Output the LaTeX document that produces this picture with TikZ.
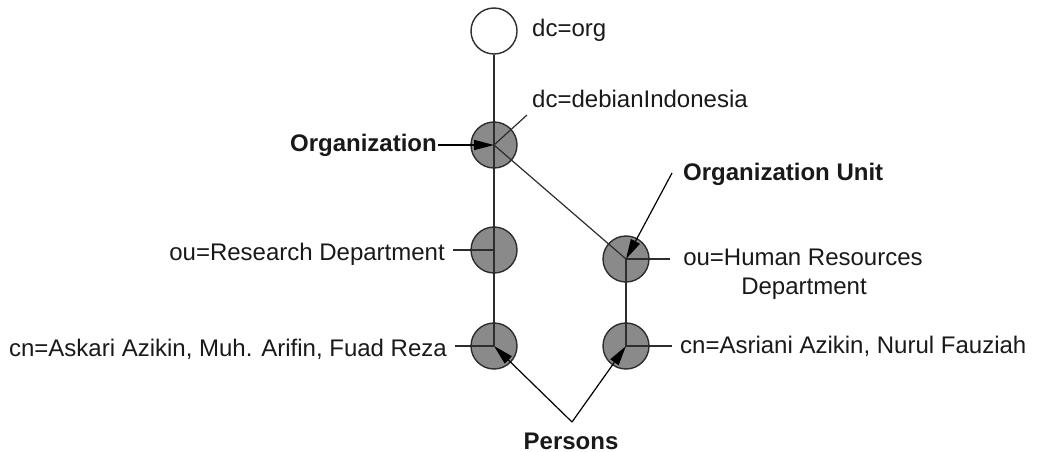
\documentclass[tikz,border=0pt]{standalone}
\usepackage{fontspec}
\setmainfont{Liberation Sans}
\usetikzlibrary{arrows.meta}
\definecolor{fillgray}{RGB}{138,138,138}
\definecolor{ink}{RGB}{45,45,45}
\definecolor{txt}{RGB}{25,25,25}
\begin{document}
\begin{tikzpicture}[x=1pt,y=-1pt,
  ent/.style={circle,draw=ink,line width=1.4pt,fill=fillgray,minimum size=46pt,inner sep=0pt},
  conn/.style={draw=ink,line width=1.5pt},
  thin conn/.style={draw=ink,line width=1.2pt},
  lbl/.style={font=\fontsize{24}{29}\selectfont,text=txt,inner sep=0pt},
  blbl/.style={font=\fontsize{24}{29}\selectfont\bfseries,text=txt,inner sep=0pt},
  tip/.style={-{Triangle[length=20pt,width=10pt]}}
]
\useasboundingbox (0,0) rectangle (1039,452);

% entries
\node[ent,fill=white] (root) at (494,31) {};
\node[ent] (org) at (494,145) {};
\node[ent] (research) at (494,250) {};
\node[ent] (hr) at (626,259) {};
\node[ent] (askari) at (494,346) {};
\node[ent] (asriani) at (626,346) {};

% labels
\node[lbl,anchor=base west] (lroot) at (532,36.7) {dc=org};
\node[lbl,anchor=base west] (lorg) at (532,107) {dc=debianIndonesia};
\node[blbl,anchor=base east] (lorganization) at (437,151.5) {Organization};
\node[blbl,anchor=base west] (lunit) at (683,180.5) {Organization Unit};
\node[lbl,anchor=base] (lhra) at (803,265) {ou=Human Resources};
\node[lbl,anchor=base] (lhrb) at (804,294) {Department};
\node[lbl,anchor=base east] (lresearch) at (445,260.5) {ou=Research Department};
\node[lbl,anchor=base east] (laskari) at (447,356) {cn=Askari Azikin, Muh. Arifin, Fuad Reza};
\node[lbl,anchor=base west] (lasriani) at (680,353) {cn=Asriani Azikin, Nurul Fauziah};
\node[blbl,anchor=base] (lpersons) at (571,449) {Persons};

% connector end points
\coordinate (dcl) at (527,115);
\coordinate (orgstart) at (438,145);
\coordinate (unitstart) at (672,173);
\coordinate (resl) at (453,250);
\coordinate (askl) at (455,346);
\coordinate (hrl) at (670,259);
\coordinate (asrl) at (672,346);
\coordinate (pv) at (572,422);

% tree connectors
\draw[conn] (root) -- (askari.center);
\draw[thin conn] (org.center) -- (hr.center);
\draw[conn] (hr.center) -- (asriani.center);

% leader lines
\draw[thin conn] (org.center) -- (dcl);
\draw[conn] (resl) -- (research.center);
\draw[conn] (askl) -- (askari.center);
\draw[conn] (hr.center) -- (hrl);
\draw[conn] (asriani.center) -- (asrl);

% arrows
\draw[conn,tip,black] (orgstart) -- (org.center);
\draw[thin conn,tip,black] (unitstart) -- (hr.center);
\draw[thin conn,tip,black] (pv) -- (askari.center);
\draw[thin conn,tip,black] (pv) -- (asriani.center);
\end{tikzpicture}
\end{document}
